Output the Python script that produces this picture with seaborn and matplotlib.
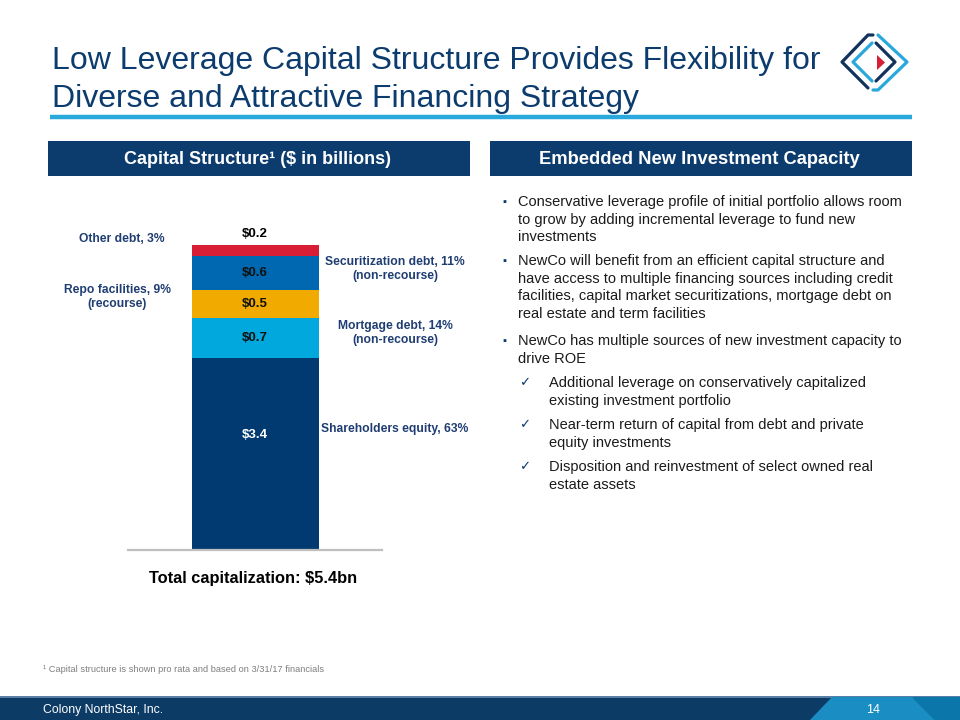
#!/usr/bin/env python3
"""
Capital structure slide: stacked bar of the capital stack plus bullet text.
Saves out.png (960x720).
"""

import numpy as np
import pandas as pd
import seaborn as sns
import matplotlib.pyplot as plt
from matplotlib.patches import Rectangle, Polygon

# ----------------------------
# Data
# ----------------------------
segments = ["Shareholders equity", "Mortgage debt", "Repo facilities",
            "Securitization debt", "Other debt"]
values = [3.4, 0.7, 0.5, 0.6, 0.2]            # $ in billions
shares = [63, 14, 9, 11, 3]                   # % of total
recourse = ["", "(non-recourse)", "(recourse)", "(non-recourse)", ""]
colors = ["#003A70", "#00A8DE", "#F0AA00", "#0068B1", "#D81E34"]
total_label = "Total capitalization: $5.4bn"

bullets = [
    ["Conservative leverage profile of initial portfolio allows room",
     "to grow by adding incremental leverage to fund new",
     "investments"],
    ["NewCo will benefit from an efficient capital structure and",
     "have access to multiple financing sources including credit",
     "facilities, capital market securitizations, mortgage debt on",
     "real estate and term facilities"],
    ["NewCo has multiple sources of new investment capacity to",
     "drive ROE"],
]
checks = [
    ["Additional leverage on conservatively capitalized",
     "existing investment portfolio"],
    ["Near-term return of capital from debt and private",
     "equity investments"],
    ["Disposition and reinvestment of select owned real",
     "estate assets"],
]

NAVY = "#0C3B6E"
LABEL_BLUE = "#1F3D72"
ACCENT = "#29A8DC"

sns.set_theme(style="white")
plt.rcParams["font.family"] = ["Liberation Sans", "DejaVu Sans"]

W, H = 960, 720
fig = plt.figure(figsize=(W / 100, H / 100), dpi=100)

# background axes in pixel coordinates (y down)
bg = fig.add_axes([0, 0, 1, 1])
bg.set_xlim(0, W)
bg.set_ylim(H, 0)
bg.axis("off")

# ----------------------------
# Title, accent line, logo
# ----------------------------
bg.text(52, 61, "Low Leverage Capital Structure Provides Flexibility for",
        fontsize=23, color=NAVY, va="center")
bg.text(52, 99, "Diverse and Attractive Financing Strategy",
        fontsize=23, color=NAVY, va="center")
bg.plot([50, 912], [117, 117], color=ACCENT, lw=3.2, solid_capstyle="butt")

# logo: two interlocking angle brackets and a red arrow
bg.plot([873, 868, 842, 868], [35, 35, 62, 88], color="#12335E", lw=2.3)
bg.plot([876, 895, 876], [43, 62, 81], color="#12335E", lw=2.3)
bg.plot([873, 878, 907, 878], [90, 90, 62, 35], color=ACCENT, lw=2.3)
bg.plot([872, 853, 872], [43, 62, 81], color=ACCENT, lw=2.3)
bg.add_patch(Polygon([[877, 55], [885, 62.5], [877, 70]], closed=True,
                     color="#D81E34", lw=0))

# ----------------------------
# Section headers
# ----------------------------
bg.add_patch(Rectangle((48, 141), 422, 35, color=NAVY, lw=0))
bg.text(258, 159, "Capital Structure¹ ($ in billions)", color="white",
        fontsize=13, fontweight="bold", ha="center", va="center")
bg.add_patch(Rectangle((490, 141), 422, 35, color=NAVY, lw=0))
bg.text(699, 159, "Embedded New Investment Capacity", color="white",
        fontsize=13.2, fontweight="bold", ha="center", va="center")

# ----------------------------
# Stacked bar (cumulative bars drawn top-down)
# ----------------------------
ax = fig.add_axes([128 / W, (H - 550) / H, 254 / W, 360 / H])
ax.set_zorder(2)
ax.patch.set_visible(False)
df = pd.DataFrame({"segment": segments, "value": values})
df["top"] = df["value"].cumsum()
df["bottom"] = df["top"] - df["value"]
df["stack"] = "Capital"

for i in reversed(range(len(df))):
    sns.barplot(data=df.iloc[[i]], x="stack", y="top", color=colors[i],
                width=1.0, saturation=1, ax=ax, linewidth=0)

px_per_unit = 56.5
ax.set_xlim(-1, 1)
ax.set_ylim(0, 360 / px_per_unit)
ax.set_xlabel("")
ax.set_ylabel("")
ax.set_xticks([])
ax.set_yticks([])
for s in ["top", "left", "right"]:
    ax.spines[s].set_visible(False)
ax.spines["bottom"].set_color("#BFBFBF")
ax.spines["bottom"].set_linewidth(1.6)

# value labels
for i, row in df.iterrows():
    if i == len(df) - 1:
        y = row["top"] + 0.19
        col = "black"
    elif i == 0:
        y = row["bottom"] + row["value"] * 0.6
        col = "white"
    else:
        y = row["bottom"] + row["value"] / 2
        col = "#111111"
    ax.text(0, y, f"${row['value']:.1f}", ha="center", va="center",
            fontsize=9.5, fontweight="bold", color=col)

# segment labels around the bar (pixel coords)
side = {
    "Other debt": (122, 239),
    "Repo facilities": (117, 297),
    "Securitization debt": (395, 269),
    "Mortgage debt": (395, 333),
    "Shareholders equity": (395, 429),
}
for seg, pct, rec in zip(segments, shares, recourse):
    txt = f"{seg}, {pct}%" + (f"\n{rec}" if rec else "")
    x, y = side[seg]
    bg.text(x, y, txt, ha="center", va="center", fontsize=8.7,
            fontweight="bold", color=LABEL_BLUE, linespacing=1.2)

bg.text(253, 578, total_label, ha="center", va="center", fontsize=11.8,
        fontweight="bold", color="black")

# ----------------------------
# Right column text
# ----------------------------
TXT = "#1A1A1A"
FS = 10.55
bullet_y = [202, 261, 341]
for y0, lines in zip(bullet_y, bullets):
    bg.text(504, y0, "▪", fontsize=8, color=NAVY, ha="center", va="center")
    for k, line in enumerate(lines):
        bg.text(518, y0 + k * 17.6, line, fontsize=FS, color=TXT, va="center")

check_y = [383, 425, 467]
for y0, lines in zip(check_y, checks):
    bg.text(525, y0, "✓", fontsize=9.5, color=NAVY, ha="center", va="center",
            family=["DejaVu Sans"])
    for k, line in enumerate(lines):
        bg.text(549, y0 + k * 17.6, line, fontsize=FS, color=TXT, va="center")

# ----------------------------
# Footnote and footer
# ----------------------------
bg.text(43, 669, "¹ Capital structure is shown pro rata and based on 3/31/17 financials",
        fontsize=6.7, color="#7F7F7F", va="center")

bg.add_patch(Rectangle((0, 697), W, 23, color="#0C3B66", lw=0))
bg.add_patch(Rectangle((0, 696), W, 1.5, color="#5A7FA6", lw=0))
bg.add_patch(Polygon([[912, 697], [W, 697], [W, 720], [935, 720]],
                     closed=True, color="#0B76AA", lw=0))
bg.add_patch(Polygon([[832, 697], [912, 697], [935, 720], [810, 720]],
                     closed=True, color="#1A8EC3", lw=0))
bg.text(43, 710, "Colony NorthStar, Inc.", fontsize=8.8, color="white", va="center")
bg.text(873, 710, "14", fontsize=9, color="white", ha="center", va="center")

fig.savefig("out.png", dpi=100)
plt.close(fig)
